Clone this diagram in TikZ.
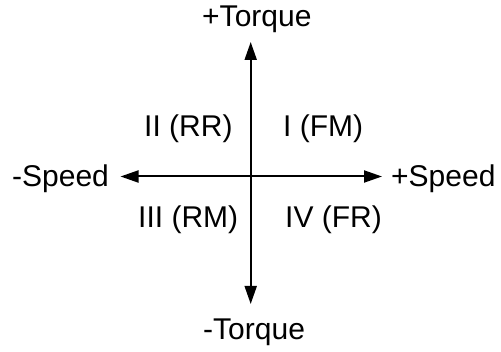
\documentclass[tikz,border=0pt]{standalone}
\usepackage{fontspec}
\setmainfont{Liberation Sans}
\usetikzlibrary{arrows.meta}
\begin{document}
\begin{tikzpicture}[x=1pt,y=-1pt,
  lbl/.style={inner sep=0pt, anchor=base west, font=\fontsize{30}{36}\selectfont},
  axis/.style={line width=2pt, {Triangle[length=18pt,width=12pt]}-{Triangle[length=18pt,width=12pt]}}]
\useasboundingbox (0,0) rectangle (501,352);
\coordinate (l) at (120.5,176.5);
\coordinate (r) at (382,176.5);
\coordinate (t) at (250.7,42);
\coordinate (b) at (250.7,304);
\draw[axis] (l) -- (r);
\draw[axis] (b) -- (t);
\node[lbl] (pt) at (202,26.7) {+Torque};
\node[lbl] (mt) at (203,340) {-Torque};
\node[lbl] (ms) at (12,187) {-Speed};
\node[lbl] (ps) at (391,187) {+Speed};
\node[lbl] (q2) at (144,137) {II (RR)};
\node[lbl] (q1) at (283,137) {I (FM)};
\node[lbl] (q3) at (138,228) {III (RM)};
\node[lbl] (q4) at (285,228) {IV (FR)};
\end{tikzpicture}
\end{document}
